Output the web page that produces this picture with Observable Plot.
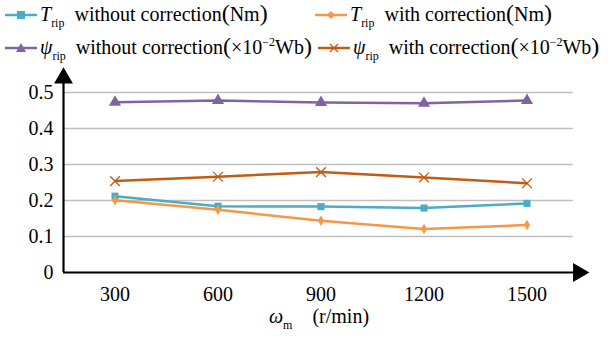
<!DOCTYPE html>
<html><head><meta charset="utf-8">
<script src="https://cdn.jsdelivr.net/npm/d3@7"></script>
<script src="https://cdn.jsdelivr.net/npm/@observablehq/plot@0.6"></script>
<style>
body{margin:0;background:#fff;font-family:'Liberation Serif';}
#wrap{position:relative;width:610px;height:338px;overflow:hidden;font-family:'Liberation Serif';}
#legend{position:relative;height:66px;width:610px;}
.item{position:absolute;white-space:nowrap;font-size:20px;line-height:28px;height:28px;display:flex;align-items:center;font-family:'Liberation Serif';}
.item svg{margin-right:3px;}
.sub{font-size:12px;font-style:normal;position:relative;top:6px;}
.it{font-style:italic;}
.par{font-size:24px;line-height:28px;}
.sup{font-size:12px;position:relative;top:-8px;}
#xtitle{position:absolute;left:14px;top:305px;width:610px;text-align:center;font-size:20px;font-family:'Liberation Serif';}
svg text{font-family:'Liberation Serif';}
</style></head>
<body><div id="wrap"><div id="legend"></div><div id="chart"></div>
<div id="xtitle"><span class="it">ω</span><span class="sub" style="font-size:12px">m</span>&nbsp;&nbsp;&nbsp;&nbsp;(r/min)</div></div>
<script>
const speeds = [300, 600, 900, 1200, 1500];
const tripWithout = [0.212, 0.184, 0.183, 0.179, 0.192];
const tripWith = [0.201, 0.174, 0.144, 0.121, 0.132];
const psiWithout = [0.473, 0.478, 0.472, 0.470, 0.478];
const psiWith = [0.254, 0.266, 0.279, 0.264, 0.248];
const yTicks = [0, 0.1, 0.2, 0.3, 0.4, 0.5];

const FONT = "Liberation Serif";
const seriesDefs = [
  {key:"Trip without", values: tripWithout, color:"#4BACC6", symbol:"square", r:4},
  {key:"Trip with", values: tripWith, color:"#F79646", symbol:"diamond", r:3.2},
  {key:"psi without", values: psiWithout, color:"#8064A2", symbol:"triangle", r:4.5},
  {key:"psi with", values: psiWith, color:"#C55A11", symbol:"times", r:4.5}
];
const data = seriesDefs.flatMap(s => speeds.map((x,i)=>({series:s.key, x, y:s.values[i]})));

const marks = [
  Plot.ruleY(yTicks.filter(d=>d>0), {x1:150, x2:1635, stroke:"#c0c0c0", strokeWidth:1.5}),
  Plot.axisY({ticks:yTicks, tickSize:0, tickPadding:10, fontSize:20, fontFamily:FONT, label:null, tickFormat:d=>d===0?"0":d3.format(".1f")(d)}),
  Plot.axisX({ticks:speeds, tickSize:0, tickPadding:14, fontSize:20, fontFamily:FONT, label:null, tickFormat:d=>String(d)}),
  Plot.ruleX([150], {y1:0, y2:0.535, stroke:"black", strokeWidth:2.2}),
  Plot.ruleY([0], {x1:150, x2:1650, stroke:"black", strokeWidth:2.2}),
  Plot.dot([{x:150,y:0.54}], {x:"x", y:"y", symbol:"triangle", fill:"black", r:7}),
  Plot.dot([{x:1650,y:0}], {x:"x", y:"y", symbol:"triangle", fill:"black", r:7, rotate:90}),
];
seriesDefs.forEach(s=>{
  const d = data.filter(r=>r.series===s.key);
  marks.push(Plot.line(d, {x:"x", y:"y", stroke:s.color, strokeWidth:2.5}));
  if (s.symbol==="times") {
    marks.push(Plot.dot(d, {x:"x", y:"y", stroke:s.color, symbol:"times", r:s.r, strokeWidth:1.3}));
  } else {
    marks.push(Plot.dot(d, {x:"x", y:"y", fill:s.color, stroke:"none", symbol:s.symbol, r:s.r}));
  }
});

const chart = Plot.plot({
  width:610, height:240,
  marginLeft:63, marginRight:32, marginTop:26, marginBottom:34,
  x:{domain:[150,1650], type:"linear"},
  y:{domain:[0,0.5]},
  style:{fontFamily:FONT, color:"black", background:"white"},
  marks
});
document.getElementById("chart").appendChild(chart);

const legendItems = [
  {left:5, top:1, color:"#4BACC6", sym:"square", html:'<span class="it">T</span><span class="sub">rip</span>&nbsp; without correction<span class="par">(</span>Nm<span class="par">)</span>'},
  {left:315, top:1, color:"#F79646", sym:"diamond", html:'<span class="it">T</span><span class="sub">rip</span>&nbsp; with correction<span class="par">(</span>Nm<span class="par">)</span>'},
  {left:5, top:34, color:"#8064A2", sym:"triangle", html:'<span class="it">ψ</span><span class="sub">rip</span>&nbsp; without correction<span class="par">(</span>×10<span class="sup">−2</span>Wb<span class="par">)</span>'},
  {left:318, top:34, color:"#C55A11", sym:"times", html:'<span class="it">ψ</span><span class="sub">rip</span>&nbsp; with correction<span class="par">(</span>×10<span class="sup">−2</span>Wb<span class="par">)</span>'}
];
const leg = document.getElementById("legend");
legendItems.forEach(it=>{
  const div = document.createElement("div");
  div.className="item";
  div.style.left=it.left+"px"; div.style.top=it.top+"px";
  let m="";
  const c=it.color;
  if(it.sym==="square") m=`<rect x="12" y="2" width="8" height="8" fill="${c}"/>`;
  if(it.sym==="diamond") m=`<path d="M16 2 L20 6 L16 10 L12 6Z" fill="${c}"/>`;
  if(it.sym==="triangle") m=`<path d="M16 1 L21 10 L11 10Z" fill="${c}"/>`;
  if(it.sym==="times") m=`<path d="M12 2 L20 10 M20 2 L12 10" stroke="${c}" stroke-width="1.3"/>`;
  div.innerHTML=`<svg width="32" height="12"><line x1="0" x2="32" y1="6" y2="6" stroke="${c}" stroke-width="2.5"/>${m}</svg><span>${it.html}</span>`;
  leg.appendChild(div);
});
</script></body></html>
